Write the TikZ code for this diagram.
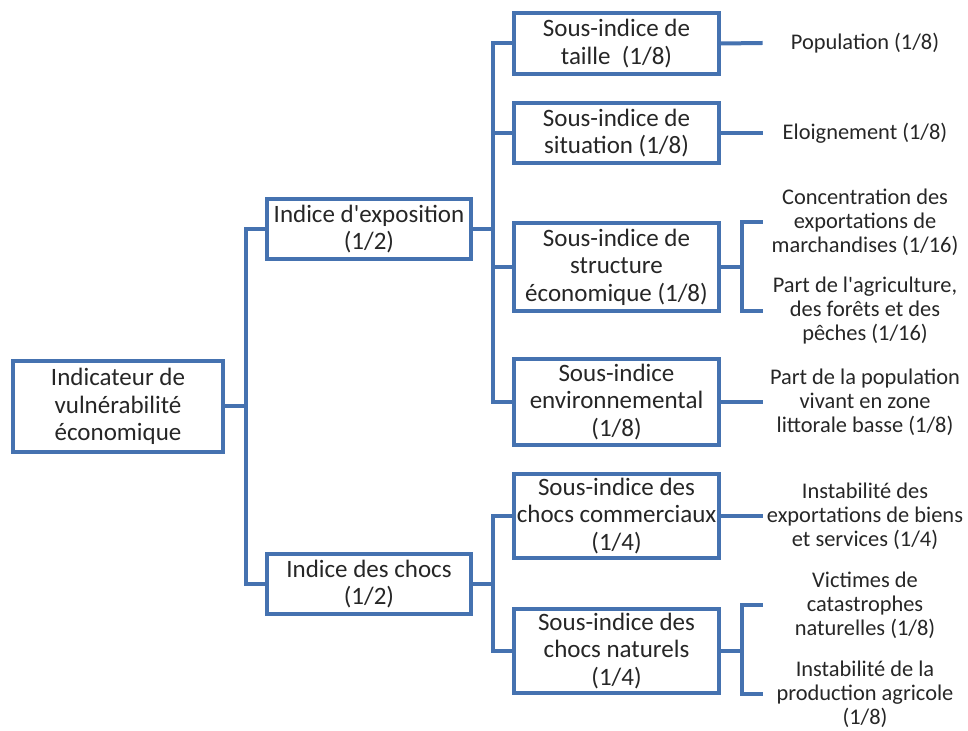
\documentclass[tikz,border=0pt]{standalone}
\usepackage{fontspec}
\setmainfont{Carlito}
\definecolor{linkblue}{RGB}{69,114,176}
\tikzset{
  box/.style={draw=linkblue, line width=2pt, align=center, inner sep=0pt,
    font=\fontsize{12.5}{13.75}\selectfont, text=black!85},
  leaf/.style={align=center, minimum width=102pt, inner sep=0pt,
    font=\fontsize{11.2}{12}\selectfont, text=black!85},
  link/.style={draw=linkblue, line width=2pt},
}
\begin{document}
\begin{tikzpicture}[x=0.5pt,y=-0.5pt]
      \useasboundingbox (0,0) rectangle (968,731);
      % boxes
      \node[box, minimum width=105pt, minimum height=45.5pt] (root) at (118,406.5)
        {Indicateur de\\vulnérabilité\\économique};
      \node[box, minimum width=102pt, minimum height=30pt] (expo) at (369,229)
        {Indice d\textquotesingle exposition\\(1/2)};
      \node[box, minimum width=102pt, minimum height=30pt] (chocs) at (369,584)
        {Indice des chocs\\(1/2)};
      \node[box, minimum width=102.5pt, minimum height=30.5pt] (taille) at (616.5,43.5)
        {Sous-indice de\\taille\ \ (1/8)};
      \node[box, minimum width=102.5pt, minimum height=30pt] (situation) at (616.5,133)
        {Sous-indice de\\situation (1/8)};
      \node[box, minimum width=102.5pt, minimum height=44pt] (structure) at (616.5,267)
        {Sous-indice de\\structure\\économique (1/8)};
      \node[box, minimum width=102.5pt, minimum height=43pt] (env) at (616.5,402)
        {Sous-indice\\environnemental\\(1/8)};
      \node[box, minimum width=102.5pt, minimum height=42pt] (comm) at (616.5,516)
        {Sous-indice des\\chocs commerciaux\\(1/4)};
      \node[box, minimum width=102.5pt, minimum height=42pt] (nat) at (616.5,651)
        {Sous-indice des\\chocs naturels\\(1/4)};
      % leaves
      \node[leaf] (pop) at (865,43) {Population (1/8)};
      \node[leaf] (eloign) at (865,133) {Eloignement (1/8)};
      \node[leaf] (conc) at (865,222)
        {Concentration des\\exportations de\\marchandises (1/16)};
      \node[leaf] (agri) at (865,311)
        {Part de l\textquotesingle agriculture,\\des forêts et des\\pêches (1/16)};
      \node[leaf] (littoral) at (865,402)
        {Part de la population\\vivant en zone\\littorale basse (1/8)};
      \node[leaf] (instexp) at (865,516)
        {Instabilité des\\exportations de biens\\et services (1/4)};
      \node[leaf] (victimes) at (865,605)
        {Victimes de\\catastrophes\\naturelles (1/8)};
      \node[leaf] (instagri) at (865,694)
        {Instabilité de la\\production agricole\\(1/8)};
      % buses
      \coordinate (rootbus) at (246,406.5);
      \coordinate (expobus) at (493,229);
      \coordinate (chocsbus) at (493,584);
      \coordinate (structbus) at (742,267);
      \coordinate (natbus) at (742,651);
      \begin{scope}[link]
        \draw (root.east) -- (rootbus);
        \draw (rootbus) |- (expo.west);
        \draw (rootbus) |- (chocs.west);
        \draw (expo.east) -- (expobus);
        \draw (expobus) |- (taille.west);
        \draw (expobus) |- (situation.west);
        \draw (expobus) |- (structure.west);
        \draw (expobus) |- (env.west);
        \draw (chocs.east) -- (chocsbus);
        \draw (chocsbus) |- (comm.west);
        \draw (chocsbus) |- (nat.west);
        \draw (taille.east) -- (pop.west);
        \draw (situation.east) -- (eloign.west);
        \draw (structure.east) -- (structbus);
        \draw (structbus) |- (conc.west);
        \draw (structbus) |- (agri.west);
        \draw (env.east) -- (littoral.west);
        \draw (comm.east) -- (instexp.west);
        \draw (nat.east) -- (natbus);
        \draw (natbus) |- (victimes.west);
        \draw (natbus) |- (instagri.west);
      \end{scope}
    \end{tikzpicture}
\end{document}
